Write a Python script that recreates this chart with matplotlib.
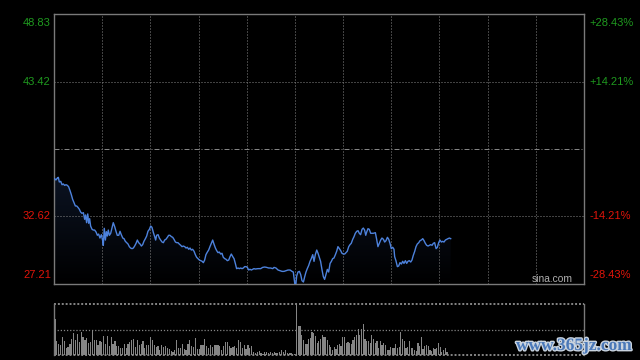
import numpy as np
import matplotlib
matplotlib.use("Agg")
import matplotlib.pyplot as plt
import matplotlib.patheffects as pe
from matplotlib.colors import LinearSegmentedColormap

# ---------------- data ----------------
prev_close = 38.02
price_top, price_bottom = 48.83, 27.21
left_labels = ["48.83", "43.42", "32.62", "27.21"]
left_values = [48.83, 43.42, 32.62, 27.21]
right_labels = ["+28.43%", "+14.21%", "-14.21%", "-28.43%"]
session_minutes = 330          # HK: 150 min morning + 180 min afternoon
lunch_break = 150

minutes = [0.4, 1.2, 2.1, 2.7, 3.3, 4.2, 5.0, 5.8, 6.6, 7.5, 8.3, 9.1, 10.0, 10.8, 11.6,
           12.5, 13.3, 14.1, 14.9, 15.8, 16.6, 17.4, 18.3, 19.1, 19.7, 20.3, 21.0, 21.6,
           22.2, 22.8, 23.7, 24.5, 25.3, 26.2, 27.0, 27.8, 28.6, 29.5, 30.3, 30.7, 31.3,
           32.0, 32.6, 33.2, 33.8, 34.5, 35.3, 36.1, 36.9, 37.8, 38.6, 39.4, 40.3, 41.1,
           41.9, 42.8, 43.6, 44.4, 45.3, 46.1, 46.9, 47.7, 48.6, 49.4, 50.2, 51.1, 51.9,
           52.7, 53.6, 54.4, 55.2, 56.0, 56.9, 57.7, 58.5, 59.4,
           60.2, 61.0, 61.9, 62.7, 63.3, 63.9, 64.8, 65.6, 66.4, 67.3, 68.1, 68.9, 69.7,
           70.6, 71.4, 72.2, 73.1, 73.9, 74.7, 75.6, 76.4, 77.2, 78.0, 78.9, 79.7, 80.5,
           81.4, 82.2, 83.0, 83.9, 84.7, 85.5, 86.3, 87.2, 88.0, 88.8, 89.7, 90.5, 91.3,
           92.2, 93.0, 93.8, 94.6, 95.5, 96.3, 97.1, 98.0, 98.8, 99.6, 100.5, 101.3, 102.1,
           102.9, 103.8, 104.6, 105.4, 106.3, 107.1, 107.9, 108.8, 109.6, 110.4, 111.3,
           112.1, 112.9, 113.7, 114.6, 115.4, 116.2, 117.1, 117.9, 118.7, 119.6, 120.4,
           121.2, 122.0, 122.9, 123.7, 124.5,
           125.4, 127.0, 128.7, 129.9, 131.2, 132.4, 133.7, 134.9, 136.2, 137.0, 138.2,
           139.5, 140.7, 142.0, 143.2, 144.5, 145.7, 147.0, 148.2, 149.0, 149.9, 150.5,
           151.1, 151.9, 152.8, 153.6, 154.4, 155.3, 156.1, 156.9, 157.7, 158.6, 159.4,
           160.2, 161.1, 161.9, 162.7, 163.6, 164.4, 165.2, 166.0, 166.9, 167.7, 168.5,
           169.4, 170.2, 171.0, 171.9, 172.7, 173.5, 174.3, 175.2, 176.0, 176.8, 177.7,
           178.5, 179.3, 180.2, 181.0, 181.8, 182.6, 183.5, 184.3, 185.1, 186.0, 186.8,
           187.6, 188.5, 189.3, 190.1, 190.9, 191.8, 192.6, 193.4, 194.1, 194.7, 195.5,
           196.3, 197.2, 198.0, 198.8, 200.1, 200.9, 201.7, 202.6, 203.4, 204.2, 205.1,
           205.9, 206.7, 207.6, 208.4, 209.2, 210.0, 210.9, 211.7, 212.1, 212.9, 213.8,
           214.6, 215.4, 216.3, 217.1, 217.9, 218.8, 219.6, 220.4, 221.2, 222.1, 222.9,
           223.7, 224.6, 225.4, 226.2, 227.1, 227.9, 228.7, 229.6, 230.4, 231.2, 232.0,
           232.9, 233.7, 234.5, 235.4, 236.2, 237.0, 237.9, 238.7, 239.5, 240.3, 241.2,
           242.0, 242.8, 243.7, 244.5, 245.3, 246.2, 247.0]

prices = [35.64, 35.54, 35.70, 35.75, 35.38, 35.43, 35.16, 35.22, 35.11, 35.16, 35.11, 35.00,
          34.68, 34.36, 33.99, 33.72, 33.46, 33.46, 33.35, 33.19, 32.97, 32.87, 32.92, 32.39,
          32.74, 32.12, 32.82, 32.07, 32.44, 31.85, 31.59, 31.53, 31.53, 31.37, 31.11, 31.21,
          30.89, 31.16, 30.68, 30.31, 31.67, 30.73, 31.40, 31.05, 31.53, 31.11, 31.27, 31.70,
          32.12, 31.80, 31.43, 31.11, 31.11, 31.43, 31.16, 30.89, 30.84, 30.63, 30.52, 30.41,
          30.20, 30.09, 30.04, 30.09, 30.25, 30.47, 30.73, 30.52, 30.41, 30.25, 30.36, 30.63,
          30.84, 31.05, 31.43, 31.59,
          31.85, 31.75, 31.32, 31.00, 30.73, 31.11, 31.16, 30.89, 30.73, 30.57, 30.52, 30.73,
          30.79, 30.95, 31.11, 31.11, 31.00, 30.95, 30.79, 30.57, 30.52, 30.52, 30.41, 30.31,
          30.20, 30.25, 30.20, 30.09, 30.15, 29.99, 30.09, 29.93, 29.99, 29.83, 29.56, 29.35,
          29.24, 29.13, 29.08, 29.03, 28.92, 29.13, 29.56, 29.77, 29.93, 30.20, 30.47, 30.73,
          30.41, 30.09, 29.88, 29.72, 29.77, 29.61, 29.67, 29.35, 29.24, 29.19, 29.08, 29.13,
          29.40, 29.61, 29.40, 29.24, 28.86, 28.44, 28.49, 28.44, 28.49, 28.44, 28.49, 28.60,
          28.60, 28.54, 28.33, 28.39, 28.33, 28.39, 28.44,
          28.41, 28.44, 28.44, 28.54, 28.57, 28.54, 28.49, 28.49, 28.44, 28.54, 28.49, 28.33,
          28.28, 28.22, 28.22, 28.28, 28.33, 28.33, 28.22, 28.17, 27.26, 27.05, 27.85, 28.17,
          28.22, 27.96, 27.48, 27.37, 27.80, 28.17, 28.44, 28.70, 29.02, 29.24, 29.56, 29.02,
          29.56, 29.93, 29.67, 29.34, 29.02, 28.33, 27.80, 27.58, 28.01, 28.38, 28.17, 28.86,
          29.02, 29.24, 29.29, 29.56, 29.83, 30.20, 30.04, 29.88, 29.67, 29.61, 29.61, 29.72,
          29.83, 30.20, 30.36, 30.47, 30.79, 31.00,
          31.27, 31.43, 31.48, 31.27, 31.16, 31.59, 31.69, 31.53, 31.11, 31.37, 31.64, 31.59,
          31.27, 31.27, 31.27, 31.32, 30.79, 30.20, 30.47, 30.73, 30.89, 30.79, 30.57, 30.68,
          30.95, 30.79, 30.47, 30.04, 30.15, 29.99, 29.40, 29.08, 28.60, 28.65, 28.92, 28.81,
          29.03, 28.86, 29.08, 28.86, 29.03, 29.08, 28.97, 29.13, 29.50, 29.83, 30.20, 30.41,
          30.52, 30.68, 30.73, 30.84, 30.68, 30.47, 30.31, 30.25, 30.31, 30.36, 30.31, 30.47,
          30.52, 30.04, 30.15, 30.52, 30.73, 30.57, 30.63, 30.57, 30.73, 30.79, 30.84, 30.89,
          30.84]

vol_am = [35, 14, 10.7, 10, 18, 14, 6.7, 8, 10.7, 16, 22, 15, 20.7, 13, 23, 18, 15, 17, 12, 13,
          24, 15, 15, 10, 14, 12.7, 19, 11, 19, 9, 18, 10.7, 14, 8.7, 9, 7, 6.7, 11, 6.7, 10.7,
          12.7, 15, 16, 8, 15, 9.7, 10.7, 14, 7.3, 9.7, 10, 18, 15, 10, 8, 9, 5, 10, 8.3, 9,
          6.7, 6, 4, 3.3, 4.7, 15, 6.7, 7.3, 10.7, 6, 5, 11, 15, 9, 8, 17, 6, 6, 10, 10, 16, 9,
          6.7, 10, 8, 10, 10, 10, 8.7, 5.3, 9, 12.7, 12.7, 8.7, 7.3, 8, 9, 6.7, 14.7, 13, 6.7,
          10, 6, 10, 6.7, 8.7, 2.7, 1.7, 2.7, 4, 2, 1.3, 2.7, 2.7, 2, 2.7, 2, 2.7, 1.7, 1.7,
          2.7, 4.7, 3.3, 4.7, 1.7, 2, 1.7, 1.3, 1.3]
vol_pm = [50, 28.7, 28, 20, 14.7, 10.7, 10.7, 16, 16.7, 22.7, 21.3, 18.7, 12, 14, 16, 20, 17.3,
          18, 14.7, 10, 8, 4.7, 8, 6, 10, 10.7, 8.7, 18, 18, 12, 12.7, 12, 10.7, 14.7, 18, 19.3,
          25.3, 20, 25.3, 30.7, 16, 14, 14, 12, 20, 16, 12, 13.3, 7.3, 14, 10, 12, 10, 5.3, 5.3,
          8, 7.3, 7.3, 10.7, 6.7, 8, 22.7, 16, 13.3, 7.3, 8, 13.3, 7.3, 7.3, 5.3, 4, 11.3, 9.3,
          17.3, 6, 9.3, 10, 8.7, 5.3, 4, 6.7, 6, 6.7, 12, 8, 3.3, 4.7, 6.7, 3.3]
vol_max = 50

# ---------------- style ----------------
BG = "#000000"
GRID = "#858585"
SPINE = "#7a7a7a"
LINE = "#4d82dc"
GREEN = "#1f9a1f"
RED = "#e0140a"

plt.rcParams["font.family"] = ["Liberation Sans", "DejaVu Sans"]

fig = plt.figure(figsize=(6.4, 3.6), dpi=100, facecolor=BG)
ax = fig.add_axes([54 / 640, 1 - 284 / 360, 530 / 640, 270 / 360], facecolor=BG)
axv = fig.add_axes([54 / 640, 1 - 355 / 360, 530 / 640, 51 / 360], facecolor=BG)

# ---------- price panel ----------
ax.set_xlim(0, session_minutes)
ax.set_ylim(price_bottom, price_top)
t = np.array(minutes)
p = np.array(prices)
poly = ax.fill_between(t, p, price_bottom, color="none", lw=0, zorder=1)
cmap = LinearSegmentedColormap.from_list("fade", ["#000000", "#0b1322"])
grad = np.linspace(0, 1, 256).reshape(-1, 1)
img = ax.imshow(grad, cmap=cmap, aspect="auto", origin="lower",
                extent=[0, session_minutes, price_bottom, p.max()], zorder=1)
img.set_clip_path(poly.get_paths()[0], transform=ax.transData)
ax.set_xlim(0, session_minutes)
ax.set_ylim(price_bottom, price_top)
ax.plot(t, p, color=LINE, lw=1.0, zorder=3, solid_joinstyle="round")

for x in range(30, session_minutes, 30):
    ax.axvline(x, color=GRID, lw=0.72, ls=(0, (1, 2)), zorder=2)
for v in (43.42, 32.62):
    ax.axhline(v, color=GRID, lw=0.72, ls=(0, (1, 2)), zorder=2)
ax.axhline(prev_close, color=GRID, lw=0.72, ls=(0, (5, 2, 1, 2)), zorder=2)

for s in ax.spines.values():
    s.set_color(SPINE)
    s.set_linewidth(1.0)
ax.set_xticks([])
ax.set_yticks([])

fs = 8
for lab, val, rl in zip(left_labels, left_values, right_labels):
    col = GREEN if val > prev_close else RED
    va = "center"
    if val == price_top:
        va = "top"
    elif val == price_bottom:
        va = "bottom"
    yv = val - 0.35 if va == "top" else (val + 0.35 if va == "bottom" else val)
    ax.text(-0.006, yv, lab, transform=ax.get_yaxis_transform(), ha="right", va=va,
            color=col, fontsize=fs)
    ax.text(1.011, yv, rl, transform=ax.get_yaxis_transform(), ha="left", va=va,
            color=col, fontsize=fs)

ax.text(0.979, 0.018, "sina.com", transform=ax.transAxes, ha="right", va="center",
        color="#b0b0b0", fontsize=7.4, zorder=4)

# ---------- volume panel ----------
axv.set_xlim(0, session_minutes)
axv.set_ylim(0, vol_max)
x_am = np.linspace(0.6, lunch_break - 0.1, len(vol_am))
x_pm = np.linspace(lunch_break + 1.1, 244.7, len(vol_pm))
axv.bar(x_am, vol_am, width=0.75, color="#858585", lw=0, zorder=2)
axv.bar(x_pm, vol_pm, width=0.75, color="#858585", lw=0, zorder=2)
axv.axhline(vol_max / 2, color=GRID, lw=0.9, ls=(0, (1, 1.5)), zorder=1)
axv.axhline(vol_max, color=GRID, lw=1.4, ls=(0, (1, 1)), zorder=1, clip_on=False)
axv.axhline(0, color=GRID, lw=1.4, ls=(0, (1, 1)), zorder=1, clip_on=False)
axv.spines["top"].set_visible(False)
axv.spines["bottom"].set_visible(False)
for k in ("left", "right"):
    axv.spines[k].set_color(SPINE)
    axv.spines[k].set_linewidth(1.0)
axv.set_xticks([])
axv.set_yticks([])

# watermark
fig.text(516 / 640, 1 - 346 / 360, "www.365jz.com", ha="left", va="center",
         fontsize=12.5, fontweight="bold", family=["Liberation Serif", "DejaVu Serif"],
         color="#4a78b8",
         path_effects=[pe.withStroke(linewidth=2.0, foreground="#c9d3de")])

fig.savefig("out.png", dpi=100, facecolor=BG)
